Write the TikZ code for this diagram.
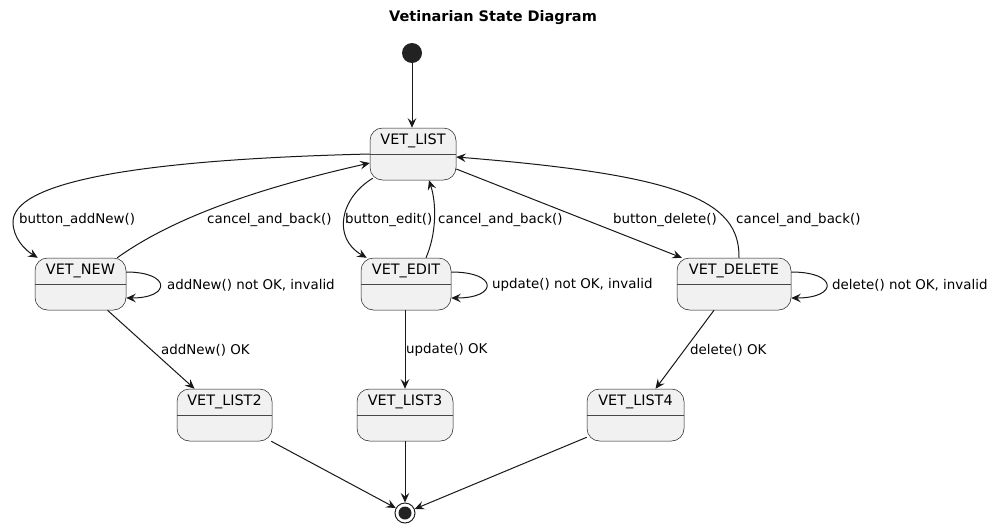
\documentclass[tikz,border=0pt]{standalone}
\usepackage{fontspec}
\setmainfont{DejaVu Sans}
\usetikzlibrary{arrows.meta}
\definecolor{boxfill}{HTML}{F1F1F1}
\definecolor{ink}{HTML}{181818}
\definecolor{dot}{HTML}{222222}
\tikzset{
  statebox/.style={draw=ink, line width=0.5pt, fill=boxfill, rounded corners=12.5pt, inner sep=0pt, minimum height=52pt},
  statename/.style={inner sep=0pt, font=\fontsize{14.4}{16}\selectfont, text=black},
  divider/.style={draw=ink!80, line width=0.5pt},
  edge/.style={draw=ink, line width=1pt, -{Stealth[length=9.5pt,width=8.5pt,inset=3.5pt]}},
  elabel/.style={inner sep=0pt, anchor=west, font=\fontsize{13.4}{15}\selectfont, text=black},
  startdot/.style={circle, fill=dot, draw=none, minimum size=20pt, inner sep=0pt},
  enddot/.style={circle, draw=dot, line width=1pt, fill=white, minimum size=20pt, inner sep=0pt,
    path picture={\fill[dot] (path picture bounding box.center) circle (6.5pt);}},
}
\begin{document}
\begin{tikzpicture}[x=1pt,y=-1pt]
\useasboundingbox[fill=white] (0,0) rectangle (999,528);

% title
\node[inner sep=0pt, font=\bfseries\fontsize{14.5}{16}\selectfont] (title) at (493,18) {Vetinarian State Diagram};

% start / end
\node[startdot] (start) at (412,53) {};
\node[enddot] (end) at (405,513) {};

% states
\node[statebox, minimum width=86pt] (list) at (413,154) {};
\draw[divider] (list.west) -- (list.east);
\node[statename] (listT) at (413,141) {VET\_LIST};

\node[statebox, minimum width=91pt] (new) at (80.5,284) {};
\draw[divider] (new.west) -- (new.east);
\node[statename] (newT) at (80.5,271) {VET\_NEW};

\node[statebox, minimum width=90pt] (edit) at (406,284) {};
\draw[divider] (edit.west) -- (edit.east);
\node[statename] (editT) at (406,271) {VET\_EDIT};

\node[statebox, minimum width=114pt] (delete) at (734,284) {};
\draw[divider] (delete.west) -- (delete.east);
\node[statename] (deleteT) at (734,271) {VET\_DELETE};

\node[statebox, minimum width=95pt] (list2) at (224.5,415) {};
\draw[divider] (list2.west) -- (list2.east);
\node[statename] (list2T) at (224.5,402) {VET\_LIST2};

\node[statebox, minimum width=96pt] (list3) at (405,415) {};
\draw[divider] (list3.west) -- (list3.east);
\node[statename] (list3T) at (405,402) {VET\_LIST3};

\node[statebox, minimum width=97pt] (list4) at (635.5,415) {};
\draw[divider] (list4.west) -- (list4.east);
\node[statename] (list4T) at (635.5,402) {VET\_LIST4};

% start -> list
\draw[edge] (start) -- (start |- list.north);

% list -> new
\draw[edge] (list.west) .. controls (120,160) and (13,185) .. (13,222)
  .. controls (13,238) and (25,250) .. ([xshift=3pt]new.north west);
\node[elabel] (l1) at (19,220) {button\_addNew()};

% new -> list
\draw[edge] ([xshift=-9pt]new.north east) .. controls (170,220) and (250,190) .. ([yshift=-9pt]list.west);
\node[elabel] (l2) at (207,220) {cancel\_and\_back()};

% list -> edit
\draw[edge] ([xshift=3pt,yshift=2pt]list.south west) .. controls (340,198) and (332,238) .. ([xshift=6pt]edit.north west);
\node[elabel] (l3) at (345,220) {button\_edit()};

% edit -> list
\draw[edge] ([xshift=20pt]edit.north) .. controls (436,235) and (437,205) .. ([xshift=16pt]list.south);
\node[elabel] (l4) at (438,220) {cancel\_and\_back()};

% list -> delete
\draw[edge] ([yshift=-15pt]list.east) -- ([xshift=5pt]delete.north west);
\node[elabel] (l5) at (613,220) {button\_delete()};

% delete -> list
\draw[edge] ([xshift=5pt]delete.north) .. controls (740,200) and (680,175) .. ([yshift=-3pt]list.east);
\node[elabel] (l6) at (736,220) {cancel\_and\_back()};

% self loops
\draw[edge] ([yshift=12pt]new.east) .. controls +(45,0) and +(45,0) .. ([yshift=-14pt]new.east);
\node[elabel] (l7) at (167,285) {addNew() not OK, invalid};
\draw[edge] ([yshift=12pt]edit.east) .. controls +(47,0) and +(47,0) .. ([yshift=-14pt]edit.east);
\node[elabel] (l8) at (492,285) {update() not OK, invalid};
\draw[edge] ([yshift=12pt]delete.east) .. controls +(47,0) and +(47,0) .. ([yshift=-14pt]delete.east);
\node[elabel] (l9) at (832,285) {delete() not OK, invalid};

% down transitions
\draw[edge] ([xshift=27pt]new.south) -- ([xshift=-30pt]list2.north);
\node[elabel] (l10) at (161,350) {addNew() OK};
\draw[edge] (list3.north |- edit.south) -- (list3.north);
\node[elabel] (l11) at (406,350) {update() OK};
\draw[edge] ([xshift=-20pt]delete.south) -- ([xshift=20pt]list4.north);
\node[elabel] (l12) at (690,350) {delete() OK};

% to end
\draw[edge] ([xshift=-1pt]list2.south east) -- (end);
\draw[edge] (list3.south) -- (end);
\draw[edge] ([yshift=4pt]list4.south west) -- (end);
\end{tikzpicture}
\end{document}
